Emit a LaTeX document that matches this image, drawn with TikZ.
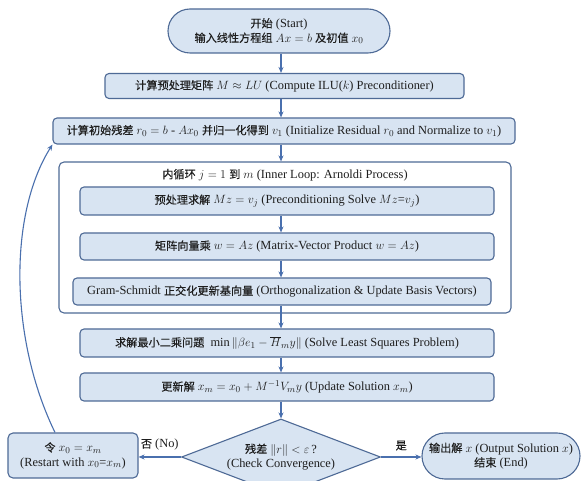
\documentclass[tikz,border=0pt]{standalone}
\usepackage{fontspec}
\setmainfont{Liberation Serif}
\newfontfamily\cjk[Scale=0.9,FakeBold=0.3]{Noto Sans CJK SC}
\newcommand{\zh}[1]{{\cjk #1}}
\usetikzlibrary{shapes.geometric,shapes.misc,arrows.meta}
\definecolor{boxfill}{HTML}{D8E4F2}
\definecolor{boxline}{HTML}{4E6A96}
\definecolor{arrowc}{HTML}{4A70AE}
\definecolor{txt}{HTML}{1E1E1E}
\begin{document}
\begin{tikzpicture}[x=1pt,y=-1pt,
  font=\fontsize{12.4}{14.5}\selectfont,
  base/.style={draw=boxline, line width=1.1pt, fill=boxfill, inner sep=0pt, align=center, text=txt},
  proc/.style={base, rectangle, rounded corners=4pt},
  term/.style={base, rounded rectangle},
  arr/.style={draw=arrowc, line width=1.1pt, -{Stealth[length=6pt,width=5pt]}},
  lbl/.style={text=txt, inner sep=0pt}]
\useasboundingbox (0,0) rectangle (582,481);
\clip (0,0) rectangle (582,481);
\fill[white] (0,0) rectangle (582,481);
\coordinate (ax) at (281,0);

\node[term, minimum width=222pt, minimum height=44pt] (start) at (279,31)
  {\zh{开始} (Start)\\ \zh{输入线性方程组} $Ax = b$ \zh{及初值} $x_0$};
\node[proc, minimum width=359pt, minimum height=25pt] (pre) at (284.5,86)
  {\zh{计算预处理矩阵} $M \approx LU$ (Compute ILU($k$) Preconditioner)};
\node[proc, minimum width=462pt, minimum height=26pt] (init) at (284,131)
  {\zh{计算初始残差} $r_0 = b$ - $Ax_0$ \zh{并归一化得到} $v_1$ (Initialize Residual $r_0$ and Normalize to $v_1$)};
\node[draw=boxline, line width=1.1pt, fill=white, rounded corners=5pt, minimum width=452pt, minimum height=151pt, inner sep=0pt] (loop) at (285,237.5) {};
\node[lbl] (hdr) at (285,175) {\zh{内循环} $j = 1$ \zh{到} $m$ (Inner Loop: Arnoldi Process)};
\node[proc, minimum width=414pt, minimum height=28pt] (in1) at (287,201)
  {\zh{预处理求解} $Mz = v_j$ (Preconditioning Solve $Mz$=$v_j$)};
\node[proc, minimum width=414pt, minimum height=27pt] (in2) at (287,246.5)
  {\zh{矩阵向量乘} $w = Az$ (Matrix-Vector Product $w = Az$)};
\node[proc, minimum width=418pt, minimum height=27pt] (in3) at (282,291.5)
  {Gram-Schmidt \zh{正交化更新基向量} (Orthogonalization \& Update Basis Vectors)};
\node[proc, minimum width=414pt, minimum height=28pt] (ls) at (287,343)
  {\zh{求解最小二乘问题}\ \ $\min\|\beta e_1 - \overline{H}_m y\|$ (Solve Least Squares Problem)};
\node[proc, minimum width=414pt, minimum height=28pt] (upd) at (287,387)
  {\zh{更新解} $x_m = x_0 + M^{-1}V_m y$ (Update Solution $x_m$)};
\node[base, diamond, aspect=2.62, minimum width=199pt, minimum height=76pt] (dia) at (281,457)
  {\zh{残差} $\|r\| < \varepsilon$\,?\\(Check Convergence)};
\node[proc, rounded corners=5pt, minimum width=130pt, minimum height=45pt] (rst) at (73,455.5)
  {\zh{令} $x_0 = x_m$\\(Restart with $x_0$=$x_m$)};
\node[term, minimum width=158pt, minimum height=46pt] (out) at (501,456)
  {\zh{输出解} $x$ (Output Solution $x$)\\ \zh{结束} (End)};

\draw[arr] (start.south -| ax) -- (pre.north -| ax);
\draw[arr] (pre.south -| ax) -- (init.north -| ax);
\draw[arr] (init.south -| ax) -- (loop.north -| ax);
\draw[arr] (in1.south -| ax) -- (in2.north -| ax);
\draw[arr] (in2.south -| ax) -- (in3.north -| ax);
\draw[arr] (in3.south -| ax) -- (ls.north -| ax);
\draw[arr] (ls.south -| ax) -- (upd.north -| ax);
\draw[arr] (upd.south -| ax) -- (dia.north);
\draw[arr] (dia.west) -- (rst.east |- dia.west) node[lbl, midway, above=6pt] (no) {\zh{否} (No)};
\draw[arr] (dia.east) -- (out.west |- dia.east) node[lbl, midway, above=6pt] (yes) {\zh{是}};
\coordinate (lp) at ([xshift=-18pt]rst.north);
\draw[arr] (lp) .. controls (10,340) and (8,215) .. (init.south west);
\end{tikzpicture}
\end{document}
